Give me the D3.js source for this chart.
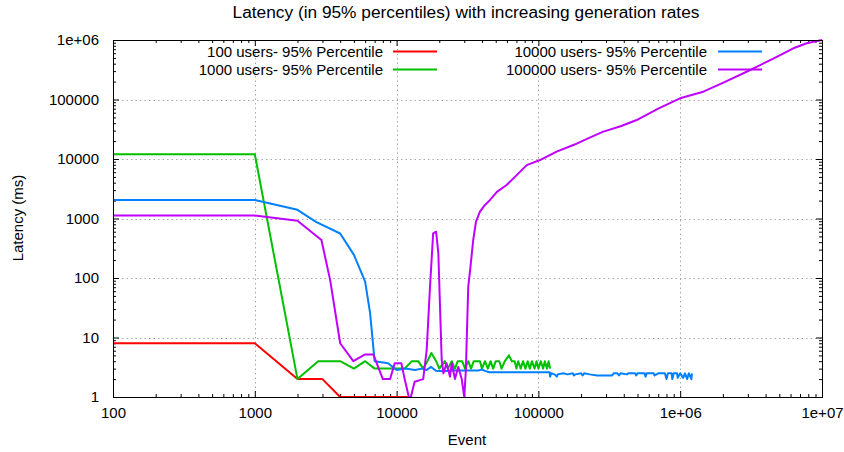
<!DOCTYPE html>
<html><head><meta charset="utf-8">
<script src="https://cdn.jsdelivr.net/npm/d3@7"></script>
<style>
html,body{margin:0;padding:0;background:#fff;}
text{font-family:"Liberation Sans",Arial,sans-serif;font-size:15px;fill:#000;}
</style></head>
<body>
<svg id="chart" width="844" height="452"></svg>
<script>
const chartTitle = "Latency (in 95% percentiles) with increasing generation rates";
const xAxisTitle = "Event";
const yAxisTitle = "Latency (ms)";
const xTickValues = [100, 1000, 10000, 100000, 1000000, 10000000];
const xTickLabels = ["100", "1000", "10000", "100000", "1e+06", "1e+07"];
const yTickValues = [1, 10, 100, 1000, 10000, 100000, 1000000];
const yTickLabels = ["1", "10", "100", "1000", "10000", "100000", "1e+06"];
const seriesNames = ["100 users- 95% Percentile", "1000 users- 95% Percentile", "10000 users- 95% Percentile", "100000 users- 95% Percentile"];
const seriesColors = ["#ff0000", "#00c000", "#0080ff", "#c000ff"];

const users100 = [[100,8],[1000,8],[2000,2],[3000,2],[4000,1],[12000,1]];

const users1000 = [[100,12000],[1000,12000],[2000,2],[2800,4],[4000,4],[5000,3],[6000,4],[7000,3],[11400,3],
  [12800,4],[14200,4],[15400,3],[16500,4],[17600,5.5],[19000,4],[20000,3],[21900,4],[23000,3],[24500,4],
  [25800,3],[27000,4],[29000,4],[30400,3],[32000,4],[33500,3],[35000,4],[38700,4],[40000,3],[42000,4],
  [44000,3],[46000,4],[48000,3],[50000,4],[53000,4],[55000,3],[58000,4],[62000,5],[65000,4],[68000,4],
  [70000,3],[72000,4],[75000,3],[78000,4],[81000,3],[84000,4],[87000,3],[90000,4],[94000,3],[97000,4],
  [100000,3],[104000,4],[108000,3],[111000,4],[115000,3],[118000,4],[121000,3]];

const users10000 = [[100,2050],[1000,2050],[2000,1400],[2700,880],[4000,560],[5000,245],[6000,87],[6500,26],
  [7000,4],[8700,3.7],[10000,2.85],[11500,3.0],[13500,2.85],[15000,3.0],[16300,2.85],[17500,3.2],[19000,2.75],
  [21500,2.7],[24000,2.8],[30000,2.8],[38000,2.8],[40000,2.9],[42000,2.75],[45000,2.6],[120000,2.6],
  [121000,2.2],[123000,2.5],[130000,2.4],[135000,2.2],[137000,2.4],[150000,2.5],[160000,2.4],[175000,2.5],
  [178000,2.3],[182000,2.4],[200000,2.5],[205000,2.3],[210000,2.5],[230000,2.4],[260000,2.3],[330000,2.3],
  [340000,2.5],[360000,2.5],[370000,2.3],[380000,2.5],[420000,2.4],[430000,2.5],[480000,2.5],[490000,2.3],
  [500000,2.5],[560000,2.5],[570000,2.2],[580000,2.5],[650000,2.5],[660000,2.3],[700000,2.5],[780000,2.5],
  [800000,2.0],[820000,2.5],[870000,2.5],[880000,2.0],[900000,2.5],[950000,2.5],[960000,2.1],[1000000,2.5],
  [1050000,2.1],[1080000,2.5],[1120000,2.0],[1150000,2.5],[1200000,2.0],[1210000,2.5]];

const users100000 = [[100,1120],[1000,1120],[2000,920],[2950,435],[3400,92],[4000,8],[4950,4],[6000,5.2],
  [6850,5.2],[8000,2],[9000,2],[9700,3.7],[10800,3.7],[11400,2],[12200,1],[12600,1],[13400,1.8],[15400,2],
  [16300,6.2],[17200,71],[18100,560],[19000,600],[19700,260],[20200,38],[20800,4.2],[21400,2.5],[22500,3.7],
  [23800,2.2],[24500,3.7],[25800,2],[27200,3.2],[28800,2],[30000,1],[30800,2.85],[32000,71],[33000,136],
  [34700,435],[36300,884],[38700,1300],[42000,1690],[45600,2050],[51000,2800],[59700,3650],[70000,5300],
  [82700,7900],[102600,9600],[134600,13300],[180000,17500],[230000,22800],[287000,28800],[380000,35500],
  [493000,45200],[700000,70000],[997000,104700],[1455000,135300],[2000000,190000],[2940000,293000],
  [4500000,480000],[6280000,725000],[7800000,880000],[10000000,1000000]];

const allSeries = [users100, users1000, users10000, users100000];

const svg = d3.select("#chart");
const L = 113, R = 822, T = 40, B = 397;
const x = d3.scaleLog().domain([100, 1e7]).range([L, R]);
const y = d3.scaleLog().domain([1, 1e6]).range([B, T]);

function minors(majors) {
  const out = [];
  for (let i = 0; i < majors.length - 1; i++)
    for (let k = 2; k <= 9; k++) out.push(majors[i] * k);
  return out;
}
const xMinor = minors(xTickValues), yMinor = minors(yTickValues);

// grid
const grid = svg.append("g").attr("stroke", "#a8a8a8").attr("stroke-width", 1).attr("stroke-dasharray", "1.5,3");
xTickValues.slice(1, -1).forEach(v => grid.append("line")
  .attr("x1", Math.round(x(v)) + 0.5).attr("x2", Math.round(x(v)) + 0.5).attr("y1", T).attr("y2", B));
yTickValues.slice(1, -1).forEach(v => grid.append("line")
  .attr("y1", Math.round(y(v)) + 0.5).attr("y2", Math.round(y(v)) + 0.5).attr("x1", L).attr("x2", R));

// axes
function styleAxis(g) { g.select(".domain").remove(); g.selectAll("line").attr("stroke", "#000"); g.selectAll("text").attr("font-size", 15).attr("font-family", "Liberation Sans, Arial, sans-serif").attr("fill", "#000"); }
svg.append("g").attr("transform", `translate(0,${B})`)
  .call(d3.axisBottom(x).tickValues(xTickValues).tickFormat((d, i) => xTickLabels[i]).tickSize(-6).tickPadding(10)).call(styleAxis);
svg.append("g").attr("transform", `translate(0,${B})`)
  .call(d3.axisBottom(x).tickValues(xMinor).tickFormat("").tickSize(-3)).call(styleAxis);
svg.append("g").attr("transform", `translate(0,${T})`)
  .call(d3.axisTop(x).tickValues(xTickValues).tickFormat("").tickSize(-6)).call(styleAxis);
svg.append("g").attr("transform", `translate(0,${T})`)
  .call(d3.axisTop(x).tickValues(xMinor).tickFormat("").tickSize(-3)).call(styleAxis);
svg.append("g").attr("transform", `translate(${L},0)`)
  .call(d3.axisLeft(y).tickValues(yTickValues).tickFormat((d, i) => yTickLabels[i]).tickSize(-6).tickPadding(14)).call(styleAxis);
svg.append("g").attr("transform", `translate(${L},0)`)
  .call(d3.axisLeft(y).tickValues(yMinor).tickFormat("").tickSize(-3)).call(styleAxis);
svg.append("g").attr("transform", `translate(${R},0)`)
  .call(d3.axisRight(y).tickValues(yTickValues).tickFormat("").tickSize(-6)).call(styleAxis);
svg.append("g").attr("transform", `translate(${R},0)`)
  .call(d3.axisRight(y).tickValues(yMinor).tickFormat("").tickSize(-3)).call(styleAxis);

// series
const line = d3.line().x(d => x(d[0])).y(d => y(d[1]));
allSeries.forEach((s, i) => svg.append("path").datum(s).attr("d", line)
  .attr("fill", "none").attr("stroke", seriesColors[i]).attr("stroke-width", 2).attr("stroke-linejoin", "round"));

// border
svg.append("rect").attr("x", L + 0.5).attr("y", T + 0.5).attr("width", R - L).attr("height", B - T)
  .attr("fill", "none").attr("stroke", "#000").attr("stroke-width", 1);

// legend
const legendPos = [{tx: 383, lx1: 393, lx2: 437, y: 51.5}, {tx: 383, lx1: 393, lx2: 437, y: 69.5},
                   {tx: 707, lx1: 718, lx2: 762, y: 51.5}, {tx: 707, lx1: 718, lx2: 762, y: 69.5}];
seriesNames.forEach((n, i) => {
  const p = legendPos[i];
  svg.append("text").attr("x", p.tx).attr("y", p.y).attr("dy", "0.35em").attr("text-anchor", "end").text(n);
  svg.append("line").attr("x1", p.lx1).attr("x2", p.lx2).attr("y1", p.y).attr("y2", p.y)
    .attr("stroke", seriesColors[i]).attr("stroke-width", 2);
});

// titles
svg.append("text").attr("x", 466).attr("y", 18).attr("text-anchor", "middle").style("font-size", "17.3px").text(chartTitle);
svg.append("text").attr("x", 467).attr("y", 445).attr("text-anchor", "middle").text(xAxisTitle);
svg.append("text").attr("transform", "translate(23,218) rotate(-90)").attr("text-anchor", "middle").text(yAxisTitle);
</script>
</body></html>
